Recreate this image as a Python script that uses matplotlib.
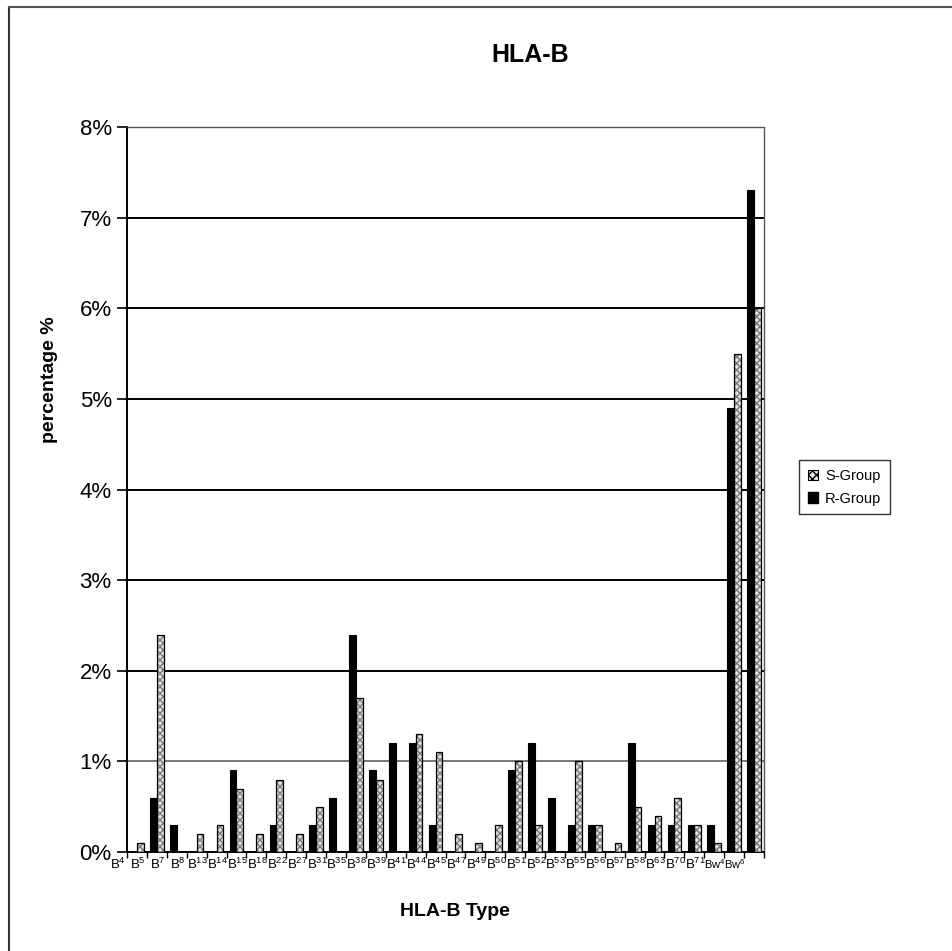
import matplotlib
matplotlib.use("Agg")
import matplotlib.pyplot as plt
import matplotlib.transforms as mtransforms
import numpy as np
from matplotlib.patches import Patch
from matplotlib.lines import Line2D

plt.rcParams['font.family'] = ['Liberation Sans', 'DejaVu Sans']
plt.rcParams['mathtext.fontset'] = 'custom'
plt.rcParams['mathtext.rm'] = 'Liberation Sans'
plt.rcParams['mathtext.it'] = 'Liberation Sans:italic'
plt.rcParams['mathtext.bf'] = 'Liberation Sans:bold'

categories = ["B4", "B5", "B7", "B8", "B13", "B14", "B15", "B18", "B22", "B27",
              "B31", "B35", "B38", "B39", "B41", "B44", "B45", "B47", "B49", "B50",
              "B51", "B52", "B53", "B55", "B56", "B57", "B58", "B63", "B70", "B71",
              "Bw4", "Bw6"]
s_group = [0.1, 2.4, 0.0, 0.2, 0.3, 0.7, 0.2, 0.8, 0.2, 0.5,
           0.0, 1.7, 0.8, 0.0, 1.3, 1.1, 0.2, 0.1, 0.3, 1.0,
           0.3, 0.0, 1.0, 0.3, 0.1, 0.5, 0.4, 0.6, 0.3, 0.1,
           5.5, 6.0]
r_group = [0.0, 0.6, 0.3, 0.0, 0.0, 0.9, 0.0, 0.3, 0.0, 0.3,
           0.6, 2.4, 0.9, 1.2, 1.2, 0.3, 0.0, 0.0, 0.0, 0.9,
           1.2, 0.6, 0.3, 0.3, 0.0, 1.2, 0.3, 0.3, 0.3, 0.3,
           4.9, 7.3]
y_ticks = [0, 1, 2, 3, 4, 5, 6, 7, 8]


def tick_label(c):
    prefix = "Bw" if c.startswith("Bw") else "B"
    num = c[len(prefix):]
    return "%s$^{%s}$" % (prefix, num)


fig = plt.figure(figsize=(9.53, 9.51), dpi=100)
ax = fig.add_axes([127 / 953, 1 - 852 / 951, (764 - 127) / 953, (852 - 127) / 951])

x = np.arange(len(categories))
w = 0.34
hatch_face = '#e2e2e2'
hatch_col = '#7a7a7a'

ax.bar(x - w / 2, r_group, width=w, color='black', edgecolor='black', linewidth=0.8, zorder=3)
ax.bar(x + w / 2, s_group, width=w, color=hatch_face, edgecolor=hatch_col, hatch='xxxxx',
       linewidth=0, zorder=3)
ax.bar(x + w / 2, s_group, width=w, fill=False, edgecolor='black', linewidth=0.9, zorder=4)

ax.set_xlim(-0.5, len(categories) - 0.5)
ax.set_ylim(0, 8)
ax.set_yticks(y_ticks)
ax.set_yticklabels(["%d%%" % v for v in y_ticks], fontsize=16)
ax.set_xticks([])
ax.set_xticks(np.arange(len(categories) + 1) - 0.5, minor=True)
ax.tick_params(axis='x', which='minor', length=4, width=1, direction='out', labelbottom=False)
ax.tick_params(axis='y', length=7, width=1.2, direction='out', pad=4)

# category labels (rendered slightly left of the category centres, as in the scan)
lab_trans = ax.get_xaxis_transform() + mtransforms.ScaledTranslation(-0.19, -0.05,
                                                                     fig.dpi_scale_trans)
for xi, c in zip(x, categories):
    fs = 8 if c.startswith("Bw") else 9.5
    ax.text(xi, 0, tick_label(c), transform=lab_trans, ha='center', va='top',
            fontsize=fs, clip_on=False)

ax.yaxis.grid(True, color='black', linewidth=1.4, zorder=1)
gls = ax.get_ygridlines()
gls[1].set_color('#777777')
gls[-1].set_visible(False)
gls[0].set_visible(False)

for side in ['top', 'right']:
    ax.spines[side].set_linestyle((0, (1, 1)))
    ax.spines[side].set_linewidth(1.0)
    ax.spines[side].set_color('#555555')
ax.spines['left'].set_linewidth(1.4)
ax.spines['bottom'].set_linewidth(1.4)

fig.text(50 / 953, 1 - 443 / 951, "percentage %", rotation=90, ha='center', va='bottom',
         fontsize=14, fontweight='bold')
fig.text(455 / 953, 1 - 912 / 951, "HLA-B Type", ha='center', va='center',
         fontsize=14, fontweight='bold')
fig.text(530 / 953, 1 - 55 / 951, "HLA-B", ha='center', va='center', fontsize=18, fontweight='bold')

handles = [Patch(facecolor=hatch_face, edgecolor='black', hatch='xxxx', linewidth=0.8),
           Patch(facecolor='black', edgecolor='black')]
leg = fig.legend(handles, ["S-Group", "R-Group"], loc='upper left',
                 bbox_to_anchor=(799 / 953, 1 - 460 / 951), bbox_transform=fig.transFigure,
                 fontsize=10.5, frameon=True, fancybox=False, borderaxespad=0,
                 handlelength=0.7, handleheight=0.7, handletextpad=0.5,
                 borderpad=0.6, labelspacing=0.6)
leg.get_frame().set_edgecolor('black')
leg.get_frame().set_linewidth(1.0)

fig.add_artist(Line2D([9 / 953, 9 / 953], [0, 1 - 7 / 951], transform=fig.transFigure,
                      color='#333333', linewidth=1.5))
fig.add_artist(Line2D([9 / 953, 1], [1 - 7 / 951, 1 - 7 / 951], transform=fig.transFigure,
                      color='#555555', linewidth=1.5))

fig.savefig("out.png", dpi=100)
